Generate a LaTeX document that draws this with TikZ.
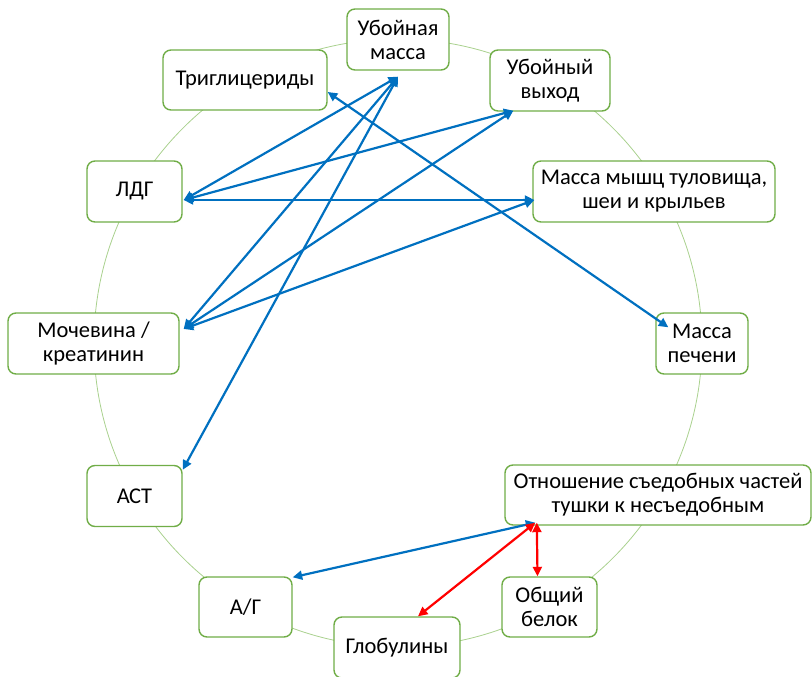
\documentclass[tikz,border=0pt]{standalone}
\usepackage{fontspec}
\setmainfont{Carlito}
\usetikzlibrary{arrows.meta,calc}
\definecolor{boxgreen}{HTML}{70AD47}
\definecolor{ringgreen}{HTML}{A9D18E}
\definecolor{linkblue}{HTML}{0070C0}
\definecolor{linkred}{HTML}{FF0000}
\tikzset{
  box/.style={draw=boxgreen, line width=1.4pt, fill=white, rounded corners=8pt,
    align=center, font=\fontsize{22.5}{24}\selectfont, inner xsep=2pt, inner ysep=2pt,
    minimum height=61pt, text=black},
  link/.style={draw=linkblue, line width=2.2pt,
    {Triangle[length=9.5pt,width=9pt]}-{Triangle[length=9.5pt,width=9pt]}},
  redlink/.style={link, draw=linkred},
}
\begin{document}
\begin{tikzpicture}[x=1pt,y=-1pt]
\useasboundingbox (0,0) rectangle (812,677);
\begin{scope}
\clip (0,0) rectangle (812,677);
\draw[ringgreen, line width=0.8pt] (398,343) circle[radius=304];
\node[box, minimum width=102pt] (um)  at (398,39.5)  {Убойная\\масса};
\node[box, minimum width=164pt, minimum height=60pt] (tg) at (245,80) {Триглицериды};
\node[box, minimum width=120pt] (uv)  at (550,80.5)  {Убойный\\выход};
\node[box, minimum width=95pt]  (ldg) at (134.5,191.5) {ЛДГ};
\node[box, minimum width=242pt] (mm)  at (654,191.5) {Масса мышц туловища,\\шеи и крыльев};
\node[box, minimum width=171pt] (moc) at (93.5,343.5) {Мочевина /\\креатинин};
\node[box, minimum width=92pt]  (mp)  at (702,343.5) {Масса\\печени};
\node[box, minimum width=95pt]  (ast) at (134.5,496) {АСТ};
\node[box, minimum width=306pt, minimum height=60pt] (otn) at (658,495) {Отношение съедобных частей\\тушки к несъедобным};
\node[box, minimum width=95pt, minimum height=60pt]  (ob)  at (549.5,607) {Общий\\белок};
\node[box, minimum width=126pt] (gl)  at (397,647.5) {Глобулины};
\node[box, minimum width=93pt, minimum height=60pt]  (ag)  at (245.5,607) {А/Г};
\end{scope}
\coordinate (um-p)  at ($(um.south)+(0,6)$);
\coordinate (uv-p)  at ($(uv.south west)+(24,-1)$);
\coordinate (tg-p)  at ($(tg.east)+(0,12)$);
\coordinate (ldg-p) at ($(ldg.east)+(1,8.5)$);
\coordinate (mm-p)  at ($(mm.west)+(2,8.5)$);
\coordinate (moc-p) at ($(moc.east)+(4,-14.5)$);
\coordinate (mp-p)  at ($(mp.north west)+(13,15)$);
\coordinate (ast-p) at ($(ast.north east)+(0,5)$);
\coordinate (otn-p) at ($(otn.south west)+(31,-3)$);
\coordinate (otn-q) at ($(otn.south west)+(32.5,-3)$);
\coordinate (ag-p)  at ($(ag.north east)+(0,1)$);
\coordinate (gl-p)  at ($(gl.north)+(21,0)$);
\coordinate (ob-p)  at ($(ob.north)+(-12,0)$);
\draw[link] (um-p) -- (ldg-p);
\draw[link] (um-p) -- (moc-p);
\draw[link] (um-p) -- (ast-p);
\draw[link] (uv-p) -- (ldg-p);
\draw[link] (uv-p) -- (moc-p);
\draw[link] (ldg-p) -- (mm-p);
\draw[link] (mm-p) -- (moc-p);
\draw[link] (tg-p) -- (mp-p);
\draw[link] (otn-p) -- (ag-p);
\draw[redlink] (otn-p) -- (gl-p);
\draw[redlink] (otn-q) -- (ob-p);
\end{tikzpicture}
\end{document}
